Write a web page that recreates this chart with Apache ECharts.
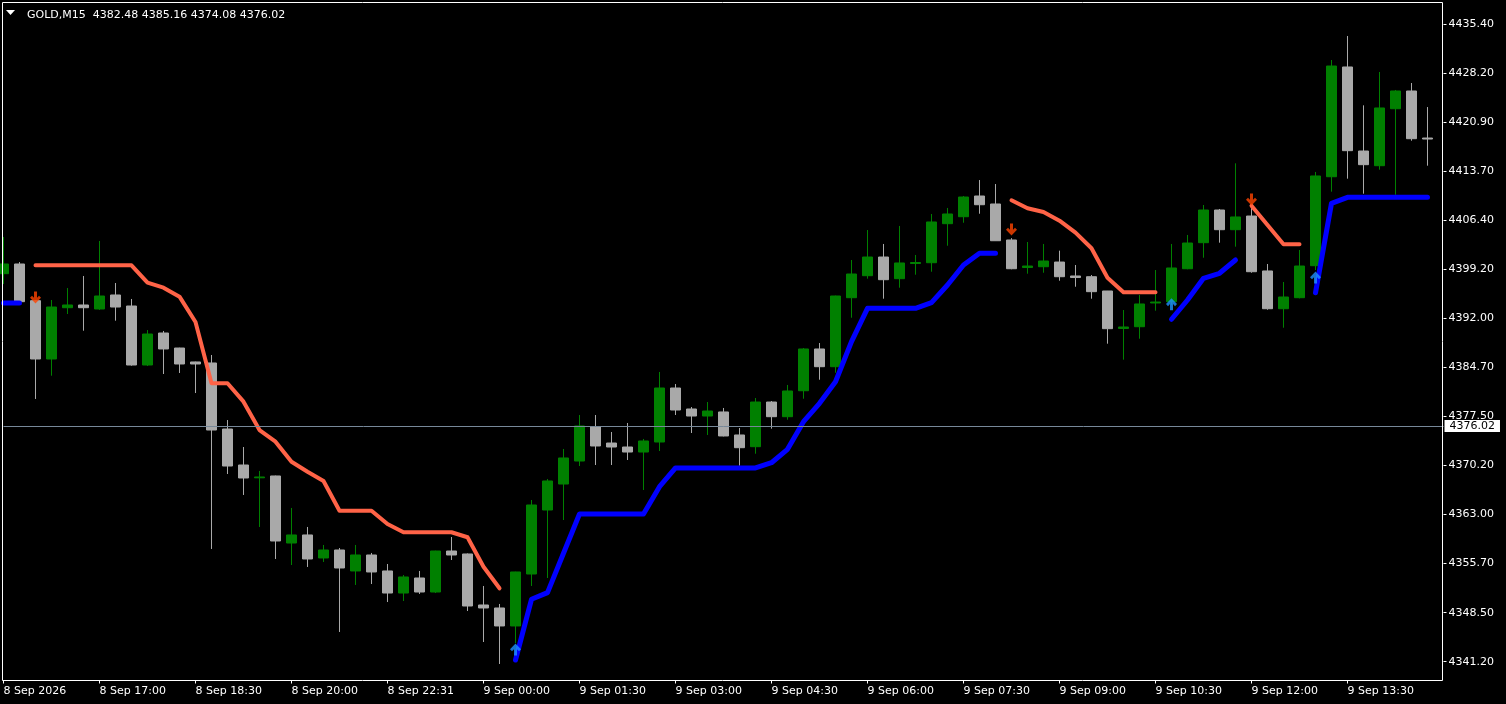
<!DOCTYPE html>
<html>
<head>
<meta charset="utf-8">
<script src="https://cdn.jsdelivr.net/npm/echarts@6/dist/echarts.min.js"></script>
<style>
html,body{margin:0;padding:0;background:#000;}
#chart{width:1506px;height:704px;}
</style>
</head>
<body>
<div id="chart"></div>
<script>
// ---- Data ----
const titleText = 'GOLD,M15  4382.48 4385.16 4374.08 4376.02';
const currentPrice = 4376.02;

const xTickLabels = ['8 Sep 2026','8 Sep 17:00','8 Sep 18:30','8 Sep 20:00','8 Sep 22:31',
  '9 Sep 00:00','9 Sep 01:30','9 Sep 03:00','9 Sep 04:30','9 Sep 06:00',
  '9 Sep 07:30','9 Sep 09:00','9 Sep 10:30','9 Sep 12:00','9 Sep 13:30'];

const yTickLabels = ['4341.20','4348.50','4355.70','4363.00','4370.20','4377.50','4384.70',
  '4392.00','4399.20','4406.40','4413.70','4420.90','4428.20','4435.40'];

const opens = [4398.55,4399.98,4394.56,4385.94,4393.52,4393.92,4393.33,4395.40,4393.77,4385.05,
 4389.78,4387.56,4385.50,4385.35,4375.59,4370.27,4368.38,4368.65,4358.74,4359.93,
 4356.53,4357.71,4354.61,4356.97,4354.61,4351.35,4353.57,4351.50,4357.56,4357.12,
 4349.58,4349.14,4346.48,4354.16,4363.62,4367.46,4370.86,4375.89,4373.52,4372.93,
 4372.19,4373.67,4381.65,4378.55,4377.51,4378.11,4374.71,4372.98,4379.58,4377.41,
 4381.25,4387.42,4384.80,4395.00,4398.25,4401.01,4397.81,4400.05,4400.17,4405.94,
 4406.97,4410.03,4408.85,4403.53,4399.46,4399.58,4400.27,4398.21,4398.10,4395.99,
 4390.45,4390.71,4394.22,4394.41,4399.28,4403.13,4407.96,4405.05,4407.07,4398.95,
 4393.37,4395.00,4399.73,4412.88,4429.10,4416.68,4414.51,4422.93,4425.55,4418.60];

const closes = [4399.98,4394.41,4385.94,4393.62,4393.92,4393.52,4395.25,4393.62,4385.05,4389.63,
 4387.42,4385.20,4385.20,4375.44,4370.12,4368.35,4368.50,4359.04,4359.93,4356.38,
 4357.71,4355.05,4356.97,4354.46,4351.35,4353.72,4351.50,4357.56,4356.97,4349.43,
 4349.14,4346.48,4354.46,4364.36,4367.91,4371.31,4376.04,4373.08,4372.93,4372.19,
 4373.82,4381.65,4378.40,4377.51,4378.25,4374.56,4372.83,4379.58,4377.41,4381.21,
 4387.42,4384.80,4395.25,4398.50,4401.01,4397.66,4400.13,4400.20,4406.19,4407.37,
 4409.88,4408.74,4403.42,4399.28,4399.68,4400.42,4398.10,4397.98,4395.89,4390.42,
 4390.67,4394.07,4394.36,4399.39,4403.08,4407.96,4405.05,4406.93,4398.84,4393.37,
 4395.10,4399.68,4412.99,4429.24,4416.73,4414.66,4423.04,4425.55,4418.50,4418.45];

const highs = [4403.97,4400.27,4394.66,4394.66,4396.43,4398.21,4403.38,4397.17,4394.81,4390.22,
 4390.08,4387.60,4385.55,4386.53,4376.92,4372.93,4369.39,4368.70,4363.92,4361.11,
 4358.45,4358.00,4358.45,4357.27,4355.64,4354.01,4354.61,4357.60,4359.63,4357.20,
 4352.39,4349.73,4354.50,4365.10,4368.20,4372.64,4377.66,4377.66,4375.15,4376.48,
 4374.12,4384.02,4382.24,4378.84,4379.58,4378.70,4375.74,4380.17,4379.73,4382.10,
 4387.56,4388.30,4395.30,4400.57,4405.00,4402.94,4405.60,4401.31,4407.37,4408.26,
 4410.03,4412.39,4411.80,4403.80,4403.23,4402.94,4401.95,4399.83,4398.35,4396.00,
 4393.18,4395.40,4399.09,4402.94,4404.27,4408.70,4408.11,4414.86,4408.40,4399.98,
 4397.32,4402.05,4413.58,4430.13,4433.68,4423.43,4428.36,4425.70,4426.73,4423.18];

const lows = [4397.02,4394.30,4380.03,4383.47,4392.59,4390.12,4393.20,4391.60,4384.95,4384.90,
 4383.72,4383.87,4380.91,4357.86,4368.94,4365.84,4361.11,4356.38,4355.49,4355.20,
 4355.94,4345.59,4352.54,4352.68,4350.02,4350.17,4351.21,4351.35,4356.23,4348.69,
 4344.11,4340.86,4343.96,4352.39,4353.57,4362.14,4370.12,4370.27,4370.27,4371.01,
 4366.58,4372.34,4377.66,4375.00,4374.71,4374.50,4370.17,4371.94,4375.64,4376.97,
 4380.07,4382.88,4383.91,4392.04,4397.81,4394.85,4396.48,4398.40,4398.84,4402.68,
 4406.08,4407.41,4403.40,4399.20,4398.55,4398.69,4397.51,4396.62,4394.85,4388.20,
 4385.84,4388.94,4393.08,4393.92,4399.20,4400.91,4403.13,4402.54,4398.69,4393.22,
 4390.56,4394.90,4399.09,4410.67,4412.59,4410.37,4413.92,4410.22,4418.20,4414.51];

// Trend indicator: red (down) and blue (up) segments
const downLine = [
 null,null,4399.79,4399.79,4399.79,4399.79,4399.79,4399.79,4399.79,4397.22,
 4396.48,4395.15,4391.41,4382.35,4382.35,4379.63,4375.44,4373.72,4370.76,4369.28,
 4367.91,4363.52,4363.52,4363.52,4361.55,4360.33,4360.33,4360.33,4360.33,4359.59,
 4355.24,4352.05,null,null,null,null,null,null,null,null,
 null,null,null,null,null,null,null,null,null,null,
 null,null,null,null,null,null,null,null,null,null,
 null,null,null,4409.39,4408.21,4407.67,4406.38,4404.61,4402.30,4397.95,
 4395.80,4395.80,4395.80,null,null,null,null,null,4408.60,4405.74,
 4402.89,4402.89,null,null,null,null,null,null,null,null];

const upLine = [
 4394.22,4394.22,null,null,null,null,null,null,null,null,
 null,null,null,null,null,null,null,null,null,null,
 null,null,null,null,null,null,null,null,null,null,
 null,null,4341.45,4350.42,4351.40,4357.22,4363.03,4363.03,4363.03,4363.03,
 4363.03,4367.07,4369.83,4369.83,4369.83,4369.83,4369.83,4369.83,4370.61,4372.59,
 4376.67,4379.39,4382.58,4388.50,4393.43,4393.43,4393.43,4393.43,4394.26,4396.88,
 4399.83,4401.56,4401.56,null,null,null,null,null,null,null,
 null,null,null,4391.81,4394.66,4397.87,4398.61,4400.57,null,null,
 null,null,4395.74,4408.95,4409.84,4409.84,4409.84,4409.84,4409.84,4409.84];

const sellArrowBars = [2, 63, 78];
const sellArrowPrices = [4395.03, 4405.08, 4409.51];
const buyArrowBars = [32, 73, 82];
const buyArrowPrices = [4343.00, 4394.02, 4397.98];

// ---- Build chart ----
const slotCount = 91; // bars + one empty slot on the right
const categories = [];
for (let i = 0; i < slotCount; i++) categories.push(String(i));
const candles = categories.map((c, i) => i < opens.length ? [opens[i], closes[i], lows[i], highs[i]] : '-');
const pad = arr => categories.map((c, i) => (i < arr.length && arr[i] !== null) ? arr[i] : '-');

const yFirst = 4341.20, yLast = 4435.40;
const yStep = (yLast - yFirst) / (yTickLabels.length - 1);
const yTickVals = yTickLabels.map((s, k) => yFirst + k * yStep);

const FONT = 'DejaVu Sans';
const downArrowPath = 'path://M4,0 L7,0 L7,6 L9,4 L11,6 L5.5,11.5 L0,6 L2,4 L4,6 Z';
const upArrowPath = 'path://M4,11.5 L7,11.5 L7,5.5 L9,7.5 L11,5.5 L5.5,0 L0,5.5 L2,7.5 L4,5.5 Z';

const chart = echarts.init(document.getElementById('chart'), null, {renderer: 'canvas'});
chart.setOption({
  backgroundColor: '#000',
  animation: false,
  title: {
    text: titleText, left: 22, top: 5,
    textStyle: {color: '#fff', fontSize: 11, fontFamily: FONT, fontWeight: 'normal'}
  },
  graphic: [
    {type: 'rect', shape: {x: 2.5, y: 2.5, width: 1440, height: 678}, style: {fill: 'none', stroke: '#fff', lineWidth: 1}, z: 50, silent: true},
    {type: 'polygon', shape: {points: [[6, 10], [15, 10], [10.5, 15]]}, style: {fill: '#fff'}, z: 50, silent: true}
  ],
  grid: {left: 3.5, right: 62.5, top: 2.5, bottom: 23.5, containLabel: false, outerBoundsMode: 'none'},
  xAxis: {
    type: 'category', data: categories, boundaryGap: false,
    axisLine: {show: false},
    axisTick: {show: true, interval: 5, length: 3, lineStyle: {color: '#fff', width: 1}},
    axisLabel: {
      interval: 5, align: 'left', color: '#fff', fontSize: 11, fontFamily: FONT, margin: 5,
      showMinLabel: true, showMaxLabel: false, hideOverlap: false,
      formatter: (v, idx) => { const i = Number(v); return (i % 6 === 0 && xTickLabels[i / 6]) ? xTickLabels[i / 6] : ''; }
    },
    splitLine: {show: false}
  },
  yAxis: {
    type: 'value', position: 'right', min: 4338.42, max: 4438.63, scale: true,
    axisLine: {show: false},
    axisTick: {show: true, length: 3, customValues: yTickVals, lineStyle: {color: '#fff'}},
    axisLabel: {
      customValues: yTickVals, color: '#fff', fontSize: 11, fontFamily: FONT, margin: 5,
      formatter: v => yTickLabels[Math.round((v - yFirst) / yStep)] || ''
    },
    splitLine: {show: false}
  },
  series: [
    {
      type: 'candlestick', data: candles, barWidth: 10, z: 2,
      itemStyle: {color: '#008000', color0: '#A9A9A9', borderColor: '#008000', borderColor0: '#A9A9A9', borderWidth: 1},
      markLine: {
        silent: true, symbol: ['none', 'none'], animation: false,
        lineStyle: {color: '#778899', width: 1, type: 'solid'},
        label: {
          position: 'end', distance: 1, formatter: currentPrice.toFixed(2),
          color: '#000', backgroundColor: '#fff', padding: [1, 5, 0, 5],
          fontSize: 11, fontFamily: FONT
        },
        data: [{yAxis: currentPrice}]
      }
    },
    {
      type: 'line', data: pad(downLine), symbol: 'none', connectNulls: false, z: 4,
      lineStyle: {color: '#FF6347', width: 4, cap: 'round', join: 'round'}
    },
    {
      type: 'line', data: pad(upLine), symbol: 'none', connectNulls: false, z: 4,
      lineStyle: {color: '#0000FF', width: 5, cap: 'round', join: 'round'}
    },
    {
      type: 'scatter', z: 5, symbol: downArrowPath, symbolSize: [11, 12], symbolKeepAspect: false,
      itemStyle: {color: '#FF4500'},
      data: sellArrowBars.map((b, k) => [String(b), sellArrowPrices[k]])
    },
    {
      type: 'scatter', z: 5, symbol: upArrowPath, symbolSize: [11, 12], symbolKeepAspect: false,
      itemStyle: {color: '#1E90FF'},
      data: buyArrowBars.map((b, k) => [String(b), buyArrowPrices[k]])
    }
  ]
});
</script>
</body>
</html>
